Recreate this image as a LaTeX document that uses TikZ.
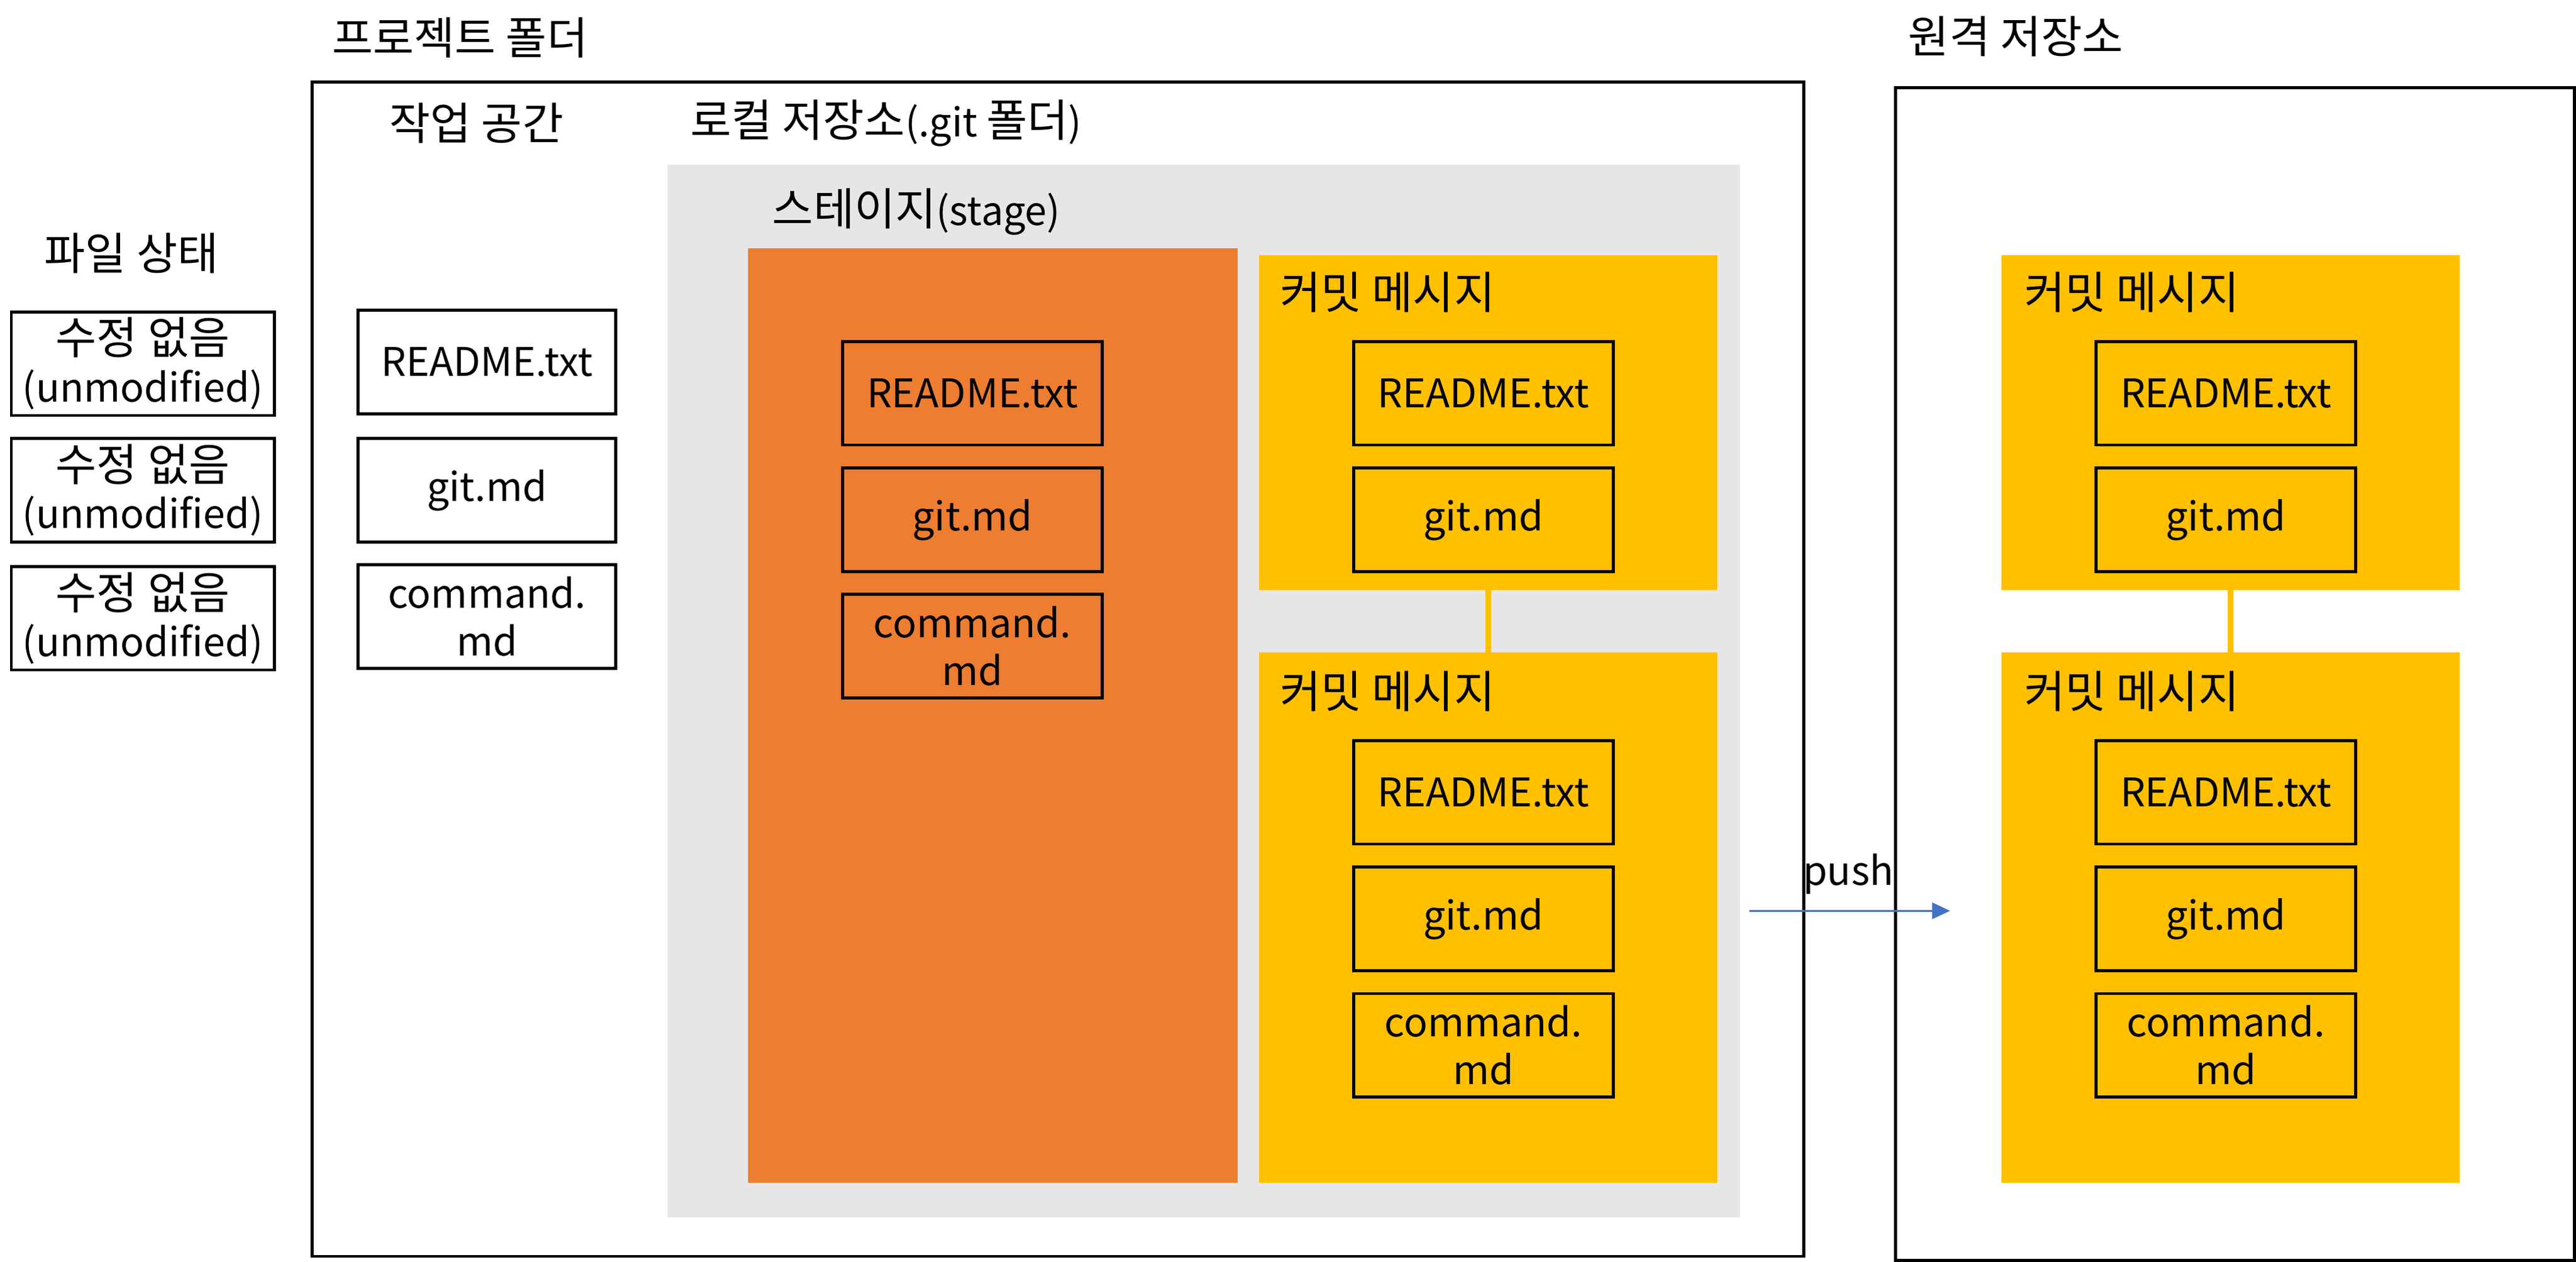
\documentclass[tikz,border=0pt]{standalone}
\usepackage{fontspec}
\setmainfont{Noto Sans CJK KR}
\newfontfamily\kr[Scale=1.13]{Noto Sans CJK KR}
\usetikzlibrary{arrows.meta}
\definecolor{orng}{HTML}{ED7D31}
\definecolor{yel}{HTML}{FFC000}
\definecolor{gry}{HTML}{E7E6E6}
\definecolor{blu}{HTML}{4472C4}
\begin{document}
\begin{tikzpicture}[x=1pt,y=-1pt,
  txt/.style={font=\fontsize{24}{29}\selectfont, inner sep=0pt, align=center},
  frame/.style={draw=black, line width=1.8pt},
  filebox/.style={txt, draw=black, line width=1.8pt, minimum width=158pt, minimum height=63pt, anchor=north west},
  statebox/.style={filebox, minimum width=160pt},
  area/.style={inner sep=0pt, anchor=north west},
  lbl/.style={txt, anchor=north west}
]
\useasboundingbox (0,0) rectangle (1568,768.3);
\fill[white] (0,0) rectangle (1568,768.3);

% titles
\node[txt] (tproj) at (280,23) {\kr 프로젝트 폴더};
\node[txt] (tremote) at (1227,22) {\kr 원격 저장소};
\node[txt] (tstate) at (80,154) {\kr 파일 상태};

% project folder
\node[frame, area, minimum width=908pt, minimum height=715pt] (proj) at (189,49) {};
\node[txt] (twork) at (290,75) {\kr 작업 공간};
\node[txt, anchor=west] (tlocal) at (420,75) {{\kr 로컬 저장소}(.git {\kr 폴더})};

% gray local repo
\node[area, fill=gry, minimum width=653pt, minimum height=641pt] (local) at (406,100) {};
\node[txt, anchor=west] (tstage) at (470,129) {{\kr 스테이지}(stage)};

% orange stage
\node[area, fill=orng, minimum width=298pt, minimum height=569pt] (stage) at (455,151) {};

% local commits
\node[area, fill=yel, minimum width=279pt, minimum height=204pt] (lc1) at (766,155) {};
\node[area, fill=yel, minimum width=279pt, minimum height=323pt] (lc2) at (766,397) {};
\draw[yel, line width=3.5pt] (lc1.south) -- (lc2.north);
\node[txt, anchor=west] (lc1t) at (779,178) {\kr 커밋 메시지};
\node[txt, anchor=west] (lc2t) at (779,421) {\kr 커밋 메시지};

% remote
\node[frame, area, minimum width=413pt, minimum height=714pt] (remote) at (1153,52.5) {};
\node[area, fill=yel, minimum width=279pt, minimum height=204pt] (rc1) at (1218,155) {};
\node[area, fill=yel, minimum width=279pt, minimum height=323pt] (rc2) at (1218,397) {};
\draw[yel, line width=3.5pt] (rc1.south) -- (rc2.north);
\node[txt, anchor=west] (rc1t) at (1232,178) {\kr 커밋 메시지};
\node[txt, anchor=west] (rc2t) at (1232,421) {\kr 커밋 메시지};

% state boxes
\node[statebox] (s1) at (6,189) {{\kr 수정 없음}\\(unmodified)};
\node[statebox] (s2) at (6,266) {{\kr 수정 없음}\\(unmodified)};
\node[statebox] (s3) at (6,344) {{\kr 수정 없음}\\(unmodified)};

% working files
\node[filebox, minimum width=157pt] (w1) at (217,188) {README.txt};
\node[filebox, minimum width=157pt] (w2) at (217,266) {git.md};
\node[filebox, minimum width=157pt] (w3) at (217,343) {command.\\md};

% staged files
\node[filebox] (o1) at (512,207) {README.txt};
\node[filebox] (o2) at (512,284) {git.md};
\node[filebox] (o3) at (512,361) {command.\\md};

% local commit files
\node[filebox] (a1) at (823,207) {README.txt};
\node[filebox] (a2) at (823,284) {git.md};
\node[filebox] (b1) at (823,450) {README.txt};
\node[filebox] (b2) at (823,527) {git.md};
\node[filebox] (b3) at (823,604) {command.\\md};

% remote commit files
\node[filebox] (ra1) at (1275,207) {README.txt};
\node[filebox] (ra2) at (1275,284) {git.md};
\node[filebox] (rb1) at (1275,450) {README.txt};
\node[filebox] (rb2) at (1275,527) {git.md};
\node[filebox] (rb3) at (1275,604) {command.\\md};

% push arrow
\coordinate (pushS) at (1065,554.5);
\coordinate (pushE) at (1187,554.5);
\draw[blu, line width=1pt, -{Triangle[length=11pt,width=10pt]}] (pushS) -- (pushE);
\node[txt] (tpush) at (1125,532) {push};
\end{tikzpicture}
\end{document}
